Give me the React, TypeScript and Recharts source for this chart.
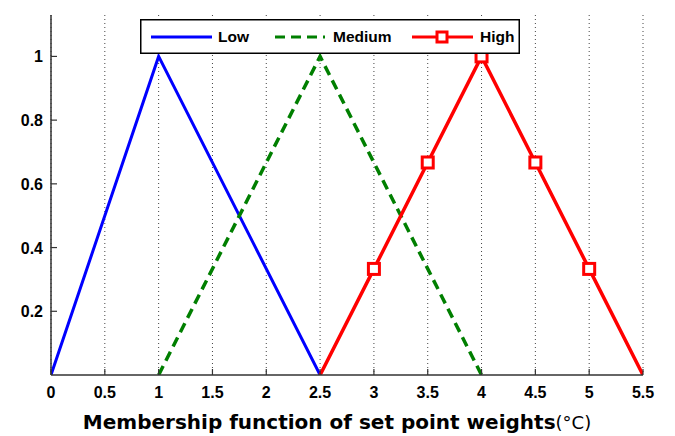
import React from 'react'
import { LineChart, Line, XAxis, YAxis, CartesianGrid, Legend } from 'recharts'

const xTicks = [0, 0.5, 1, 1.5, 2, 2.5, 3, 3.5, 4, 4.5, 5, 5.5]
const yTicks = [0.2, 0.4, 0.6, 0.8, 1]

const lowData = [
  { x: 0, y: 0 },
  { x: 1, y: 1 },
  { x: 2.5, y: 0 }
]
const mediumData = [
  { x: 1, y: 0 },
  { x: 2.5, y: 1 },
  { x: 4, y: 0 }
]
const highData = [
  { x: 2.5, y: 0 },
  { x: 3, y: 0.333 },
  { x: 3.5, y: 0.667 },
  { x: 4, y: 1 },
  { x: 4.5, y: 0.667 },
  { x: 5, y: 0.333 },
  { x: 5.5, y: 0 }
]

const font = '"Liberation Sans", Arial, sans-serif'
const labelFont = '"DejaVu Sans", Verdana, sans-serif'
const axisColor = '#333'
const TICK = 6

const BLUE = '#0000ff'
const GREEN = '#007f00'
const RED = '#ff0000'

const BottomTick = (props: any) => {
  const { x, y, payload } = props
  return (
    <g>
      <line x1={x} x2={x} y1={y} y2={y - TICK} stroke={axisColor} strokeWidth={1.2} />
      <text x={x} y={y + 23} textAnchor="middle" fontFamily={font} fontWeight="bold" fontSize={16} fill="#000">
        {payload.value}
      </text>
    </g>
  )
}

const TopTick = (props: any) => {
  const { x, y } = props
  return <line x1={x} x2={x} y1={y} y2={y + TICK} stroke={axisColor} strokeWidth={1.2} />
}

const LeftTick = (props: any) => {
  const { x, y, payload } = props
  return (
    <g>
      <line x1={x} x2={x + TICK} y1={y} y2={y} stroke={axisColor} strokeWidth={1.2} />
      <text x={x - 8} y={y + 6} textAnchor="end" fontFamily={font} fontWeight="bold" fontSize={16} fill="#000">
        {payload.value}
      </text>
    </g>
  )
}

const RightTick = (props: any) => {
  const { x, y } = props
  return <line x1={x} x2={x - TICK} y1={y} y2={y} stroke={axisColor} strokeWidth={1.2} />
}

const SquareDot = (props: any) => {
  const { cx, cy, payload, index } = props
  if (!payload || payload.y <= 0) return <g key={index} />
  return <rect key={index} x={cx - 5.5} y={cy - 5.5} width={11} height={11} fill="#fff" stroke={RED} strokeWidth={3} />
}

const XLabel = (props: any) => {
  const { viewBox } = props
  const cx = viewBox.x + viewBox.width / 2 - 10
  return (
    <text x={cx} y={viewBox.y + 54} textAnchor="middle" fontFamily={labelFont} fontSize={20} fill="#000">
      <tspan fontWeight="bold">Membership function of set point weights</tspan>
      <tspan fontWeight="normal" fontSize={18}>(°C)</tspan>
    </text>
  )
}

const LegendBox = () => (
  <svg width={380} height={35} style={{ display: 'block' }}>
    <rect x={0.75} y={0.75} width={378.5} height={33.5} fill="#fff" stroke="#000" strokeWidth={1.5} />
    <line x1={11} x2={72} y1={18} y2={18} stroke={BLUE} strokeWidth={3} />
    <text x={78} y={23} fontFamily={font} fontWeight="bold" fontSize={15.5}>Low</text>
    <line x1={135} x2={185} y1={18} y2={18} stroke={GREEN} strokeWidth={3} strokeDasharray="10 6" />
    <text x={193} y={23} fontFamily={font} fontWeight="bold" fontSize={15.5}>Medium</text>
    <line x1={272} x2={333} y1={18} y2={18} stroke={RED} strokeWidth={3} />
    <rect x={297} y={13} width={10} height={10} fill="#fff" stroke={RED} strokeWidth={3} />
    <text x={340} y={23} fontFamily={font} fontWeight="bold" fontSize={15.5}>High</text>
  </svg>
)

export default function App() {
  return (
    <div style={{ position: 'absolute', left: 0, top: 0, width: 675, height: 436, background: '#fff' }}>
      <LineChart width={675} height={436} margin={{ top: 15, right: 32, bottom: 0, left: 0 }}>
        <CartesianGrid horizontal={false} stroke="#444" strokeDasharray="1 3" />
        <XAxis
          dataKey="x"
          type="number"
          domain={[0, 5.5]}
          ticks={xTicks}
          interval={0}
          height={61}
          tickSize={0}
          tickMargin={0}
          tick={<BottomTick />}
          axisLine={{ stroke: axisColor, strokeWidth: 1.5 }}
          allowDataOverflow
          label={<XLabel />}
        />
        <XAxis
          xAxisId="top"
          orientation="top"
          type="number"
          domain={[0, 5.5]}
          ticks={xTicks}
          interval={0}
          height={0}
          tickSize={0}
          tickMargin={0}
          tick={<TopTick />}
          axisLine={{ stroke: axisColor, strokeWidth: 1.5 }}
        />
        <YAxis
          type="number"
          domain={[0, 1.13]}
          ticks={yTicks}
          interval={0}
          width={51}
          tickSize={0}
          tickMargin={0}
          tick={<LeftTick />}
          axisLine={{ stroke: axisColor, strokeWidth: 1.5 }}
          allowDataOverflow
        />
        <YAxis
          yAxisId="right"
          orientation="right"
          type="number"
          domain={[0, 1.13]}
          ticks={yTicks}
          interval={0}
          width={0}
          tickSize={0}
          tickMargin={0}
          tick={<RightTick />}
          axisLine={{ stroke: axisColor, strokeWidth: 1.5 }}
        />
        <Legend
          verticalAlign="middle"
          align="center"
          layout="horizontal"
          content={<LegendBox />}
          wrapperStyle={{ position: 'absolute', left: 140, top: 19, width: 380, height: 35 }}
        />
        <Line data={lowData} dataKey="y" name="Low" stroke={BLUE} strokeWidth={3} dot={false} isAnimationActive={false} />
        <Line
          data={mediumData}
          dataKey="y"
          name="Medium"
          stroke={GREEN}
          strokeWidth={3.5}
          strokeDasharray="10 6"
          dot={false}
          isAnimationActive={false}
        />
        <Line
          data={highData}
          dataKey="y"
          name="High"
          stroke={RED}
          strokeWidth={3.5}
          dot={<SquareDot />}
          activeDot={false}
          isAnimationActive={false}
        />
      </LineChart>
    </div>
  )
}
